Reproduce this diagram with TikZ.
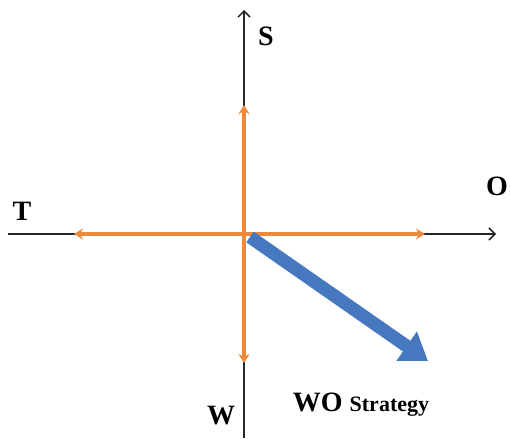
\documentclass[tikz,border=0pt]{standalone}
\usepackage{fontspec}
\setmainfont{Liberation Serif}
\usetikzlibrary{arrows.meta}
\definecolor{orng}{RGB}{237,137,57}
\definecolor{blu}{RGB}{70,120,192}
\begin{document}
\begin{tikzpicture}[x=1pt,y=-1pt,
  axis/.style={line width=1.5pt,black!85},
  orarrow/.style={line width=4pt,orng,-{Stealth[length=9pt,width=11pt]}},
  lbl/.style={font=\bfseries\fontsize{28}{30}\selectfont,inner sep=0pt}]
\useasboundingbox (0,0) rectangle (510,438);
\coordinate (o) at (244,234);
\coordinate (top) at (244,10);
\coordinate (bot) at (244,438);
\coordinate (lft) at (8,234);
\coordinate (rgt) at (496,234);
\draw[axis,-{Straight Barb[length=6pt,width=12pt]}] (bot) -- (top);
\draw[axis,-{Straight Barb[length=6pt,width=12pt]}] (lft) -- (rgt);
\coordinate (su) at (244,105);
\coordinate (sd) at (244,363);
\coordinate (sl) at (74,234);
\coordinate (sr) at (425,234);
\draw[orarrow] (o) -- (su);
\draw[orarrow] (o) -- (sd);
\draw[orarrow] (o) -- (sl);
\draw[orarrow] (o) -- (sr);
\coordinate (bs) at (250,237);
\coordinate (bt) at (428,361);
\draw[line width=13pt,blu,-{Triangle[length=26pt,width=34pt]}] (bs) -- (bt);
\node[lbl] (S) at (266,36) {S};
\node[lbl] (T) at (22,211) {T};
\node[lbl] (O) at (497,186) {O};
\node[lbl] (W) at (221,416) {W};
\node[inner sep=0pt,font=\bfseries] (WO) at (361,405) {\fontsize{28}{30}\selectfont WO \fontsize{22}{24}\selectfont Strategy};
\end{tikzpicture}
\end{document}
